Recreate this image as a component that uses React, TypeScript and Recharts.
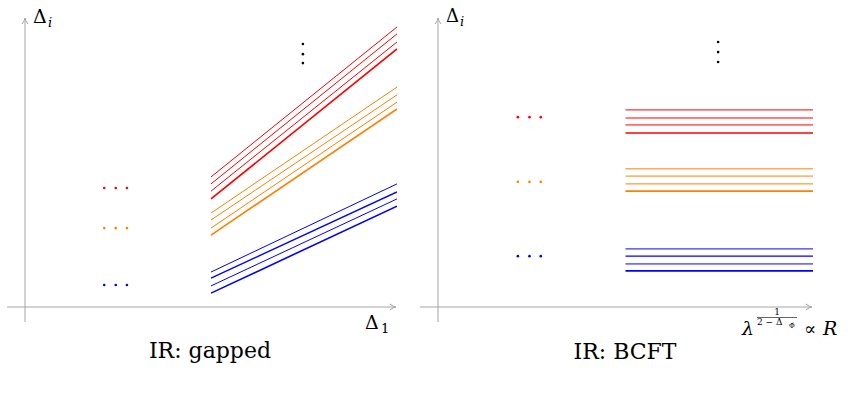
import React from "react";
import { ComposedChart, Line, Scatter, XAxis, YAxis, ReferenceLine } from "recharts";

// ---------- data ----------
const xRange = [5, 10];

// gapped panel: start/end values of each level line
const gappedRedStart = [4.5, 4.26, 4.01, 3.74];
const gappedRedEnd = [9.69, 9.45, 9.17, 8.93];
const gappedOrangeStart = [3.25, 3.01, 2.73, 2.49];
const gappedOrangeEnd = [7.61, 7.34, 7.09, 6.85];
const gappedBlueStart = [1.21, 1.0, 0.73, 0.48];
const gappedBlueEnd = [4.26, 3.98, 3.74, 3.49];

// BCFT panel: constant levels
const bcftRed = [6.82, 6.54, 6.3, 6.02];
const bcftOrange = [4.78, 4.53, 4.26, 4.01];
const bcftBlue = [2.01, 1.76, 1.49, 1.25];

// ellipsis dots
const ellipsisX = [2.13, 2.44, 2.74];
const gappedEllipsisY = { red: 4.12, orange: 2.73, blue: 0.76 };
const bcftEllipsisY = { red: 6.57, orange: 4.33, blue: 1.76 };
const vdotsX = 7.47;
const gappedVdotsY = [9.1, 8.75, 8.44];
const bcftVdotsY = [9.17, 8.82, 8.48];

const lineWidths = [1, 1, 1, 1.6];
const blueWidths = [1, 1.4, 1, 1.6];

const RED = "#ff0000";
const ORANGE = "#ff8000";
const BLUE = "#0000ff";
const AXIS = "#a6a6a6";

function buildTable(groups: { key: string; start: number[]; end: number[] }[]) {
  return xRange.map((x, idx) => {
    const row: Record<string, number> = { x };
    groups.forEach((g) => {
      g.start.forEach((_, i) => {
        row[`${g.key}${i}`] = idx === 0 ? g.start[i] : g.end[i];
      });
    });
    return row;
  });
}

const gappedData = buildTable([
  { key: "r", start: gappedRedStart, end: gappedRedEnd },
  { key: "o", start: gappedOrangeStart, end: gappedOrangeEnd },
  { key: "b", start: gappedBlueStart, end: gappedBlueEnd },
]);
const bcftData = buildTable([
  { key: "r", start: bcftRed, end: bcftRed },
  { key: "o", start: bcftOrange, end: bcftOrange },
  { key: "b", start: bcftBlue, end: bcftBlue },
]);

const ArrowLine = (props: any) => {
  const { x1, y1, x2, y2 } = props;
  const dx = x2 - x1;
  const dy = y2 - y1;
  const len = Math.sqrt(dx * dx + dy * dy) || 1;
  const ux = dx / len;
  const uy = dy / len;
  const L = 6;
  const W = 3;
  const bx = x2 - ux * L;
  const by = y2 - uy * L;
  const px = -uy * W;
  const py = ux * W;
  return (
    <g>
      <line x1={x1} y1={y1} x2={x2} y2={y2} stroke={AXIS} strokeWidth={1} />
      <path
        d={`M${bx + px},${by + py} Q${x2 - ux * 2},${y2 - uy * 2} ${x2},${y2} Q${x2 - ux * 2},${y2 - uy * 2} ${bx - px},${by - py}`}
        stroke={AXIS}
        strokeWidth={1}
        fill="none"
      />
    </g>
  );
};

const dotShape = (color: string) => (props: any) => (
  <circle cx={props.cx} cy={props.cy} r={1.3} fill={color} />
);

function Panel({
  data,
  ellY,
  vY,
  width,
  margin,
}: {
  data: Record<string, number>[];
  ellY: { red: number; orange: number; blue: number };
  vY: number[];
  width: number;
  margin: { top: number; right: number; bottom: number; left: number };
}) {
  const groups = [
    { key: "r", color: RED, widths: lineWidths },
    { key: "o", color: ORANGE, widths: lineWidths },
    { key: "b", color: BLUE, widths: blueWidths },
  ];
  return (
    <ComposedChart width={width} height={401} data={data} margin={margin}>
      <XAxis type="number" dataKey="x" domain={[0, 10]} hide allowDataOverflow />
      <YAxis type="number" domain={[0, 10]} hide allowDataOverflow />
      <ReferenceLine
        segment={[{ x: -0.48, y: 0 }, { x: 9.97, y: 0 }]}
        ifOverflow="visible"
        shape={ArrowLine}
      />
      <ReferenceLine
        segment={[{ x: 0, y: -0.52 }, { x: 0, y: 10 }]}
        ifOverflow="visible"
        shape={ArrowLine}
      />
      {groups.map((g) =>
        [0, 1, 2, 3].map((i) => (
          <Line
            key={`${g.key}${i}`}
            type="linear"
            dataKey={`${g.key}${i}`}
            stroke={g.color}
            strokeWidth={g.widths[i]}
            dot={false}
            activeDot={false}
            isAnimationActive={false}
          />
        ))
      )}
      <Scatter
        data={ellipsisX.map((x) => ({ x, y: ellY.red }))}
        dataKey="y"
        shape={dotShape(RED)}
        isAnimationActive={false}
      />
      <Scatter
        data={ellipsisX.map((x) => ({ x, y: ellY.orange }))}
        dataKey="y"
        shape={dotShape(ORANGE)}
        isAnimationActive={false}
      />
      <Scatter
        data={ellipsisX.map((x) => ({ x, y: ellY.blue }))}
        dataKey="y"
        shape={dotShape(BLUE)}
        isAnimationActive={false}
      />
      <Scatter
        data={vY.map((y) => ({ x: vdotsX, y }))}
        dataKey="y"
        shape={dotShape("#000000")}
        isAnimationActive={false}
      />
    </ComposedChart>
  );
}

const SERIF = "DejaVu Serif";

const T = (props: any) => {
  const { italic, size, children, ...rest } = props;
  return (
    <text
      {...rest}
      fill="#000"
      fontFamily={SERIF}
      fontSize={size}
      fontStyle={italic ? "italic" : "normal"}
    >
      {children}
    </text>
  );
};

export default function App() {
  return (
    <div
      style={{
        position: "absolute",
        left: 0,
        top: 0,
        width: 850,
        height: 401,
        overflow: "hidden",
        background: "#fff",
      }}
    >
      <div style={{ position: "absolute", left: 0, top: 0 }}>
        <Panel
          data={gappedData}
          ellY={gappedEllipsisY}
          vY={gappedVdotsY}
          width={420}
          margin={{ top: 18, right: 23, bottom: 94, left: 25 }}
        />
      </div>
      <div style={{ position: "absolute", left: 420, top: 0 }}>
        <Panel
          data={bcftData}
          ellY={bcftEllipsisY}
          vY={bcftVdotsY}
          width={430}
          margin={{ top: 18, right: 37, bottom: 94, left: 18 }}
        />
      </div>
      <svg
        width={850}
        height={401}
        style={{ position: "absolute", left: 0, top: 0, pointerEvents: "none" }}
      >
        {/* left panel labels */}
        <T x={33} y={23} size={19}>Δ</T>
        <T x={48} y={27} size={13} italic>i</T>
        <T x={365} y={329} size={19}>Δ</T>
        <T x={381} y={333} size={13}>1</T>
        <T x={210} y={358} size={22} textAnchor="middle">IR: gapped</T>

        {/* right panel labels */}
        <T x={446} y={22} size={18}>Δ</T>
        <T x={460} y={26} size={13} italic>i</T>
        <T x={742} y={335} size={19} italic>λ</T>
        <T x={777} y={315} size={9} textAnchor="middle">1</T>
        <line x1={757} y1={317.5} x2={797} y2={317.5} stroke="#000" strokeWidth={0.6} />
        <T x={757} y={325} size={9}>2 − Δ</T>
        <T x={789} y={328} size={7}>Φ̂</T>
        <T x={804} y={335} size={18}>∝</T>
        <T x={823} y={335} size={19} italic>R</T>
        <T x={625} y={359} size={22} textAnchor="middle">IR: BCFT</T>

        {/* cropped sub-caption */}
        <T x={458} y={416} size={18} textAnchor="middle">(a)</T>
      </svg>
    </div>
  );
}
